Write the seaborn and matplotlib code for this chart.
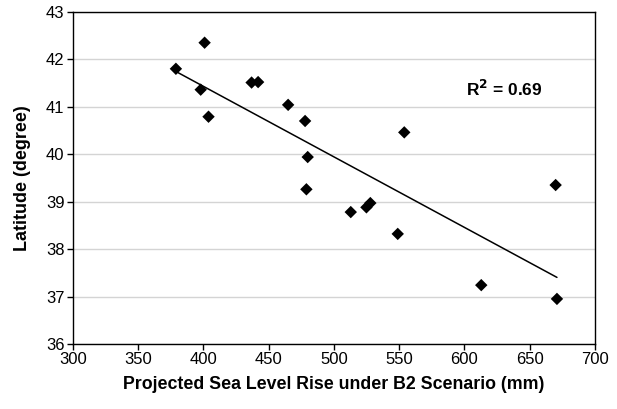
import matplotlib
matplotlib.use("Agg")
import matplotlib.pyplot as plt
import seaborn as sns
import pandas as pd

# projected sea level rise (mm) vs latitude of each site
sea_level_rise = [379, 398, 401, 404, 437, 442, 465, 478, 479, 480,
                  513, 525, 528, 549, 554, 613, 670, 671]
latitude = [41.80, 41.36, 42.35, 40.79, 41.51, 41.52, 41.04, 40.70, 39.26, 39.94,
            38.78, 38.88, 38.97, 38.32, 40.46, 37.24, 39.35, 36.95]
r2_label = "R$^{\\mathbf{2}}$ = 0.69"

df = pd.DataFrame({"rise": sea_level_rise, "lat": latitude})

sns.set_style("white")
plt.rcParams["font.family"] = ["Liberation Sans", "DejaVu Sans"]
plt.rcParams["text.color"] = "black"
plt.rcParams["axes.labelcolor"] = "black"
plt.rcParams["xtick.color"] = "black"
plt.rcParams["ytick.color"] = "black"

fig = plt.figure(figsize=(6.17, 4.09), dpi=100)
ax = fig.add_axes([0.118, 0.159, 0.846, 0.812])
sns.regplot(data=df, x="rise", y="lat", ci=None, ax=ax,
            marker="D", color="black",
            scatter_kws={"s": 40, "edgecolor": "none", "alpha": 1, "zorder": 3},
            line_kws={"color": "black", "linewidth": 1.1})

ax.set_xlim(300, 700)
ax.set_ylim(36, 43)
ax.set_xticks(range(300, 701, 50))
ax.set_yticks(range(36, 44))
ax.grid(axis="y", color="#d4d4d4", linewidth=1)
ax.set_axisbelow(True)
for s in ax.spines.values():
    s.set_color("black")
    s.set_linewidth(1)
ax.tick_params(axis="both", direction="out", length=4, width=1,
               labelsize=12, left=True, bottom=True, pad=2)

ax.text(601, 41.38, r2_label, fontsize=12.5, fontweight="bold", va="center", ha="left")
ax.set_xlabel("Projected Sea Level Rise under B2 Scenario (mm)", fontsize=12.8,
              fontweight="bold", labelpad=6)
ax.set_ylabel("Latitude (degree)", fontsize=13, fontweight="bold", labelpad=11)

fig.savefig("out.png", dpi=100)
